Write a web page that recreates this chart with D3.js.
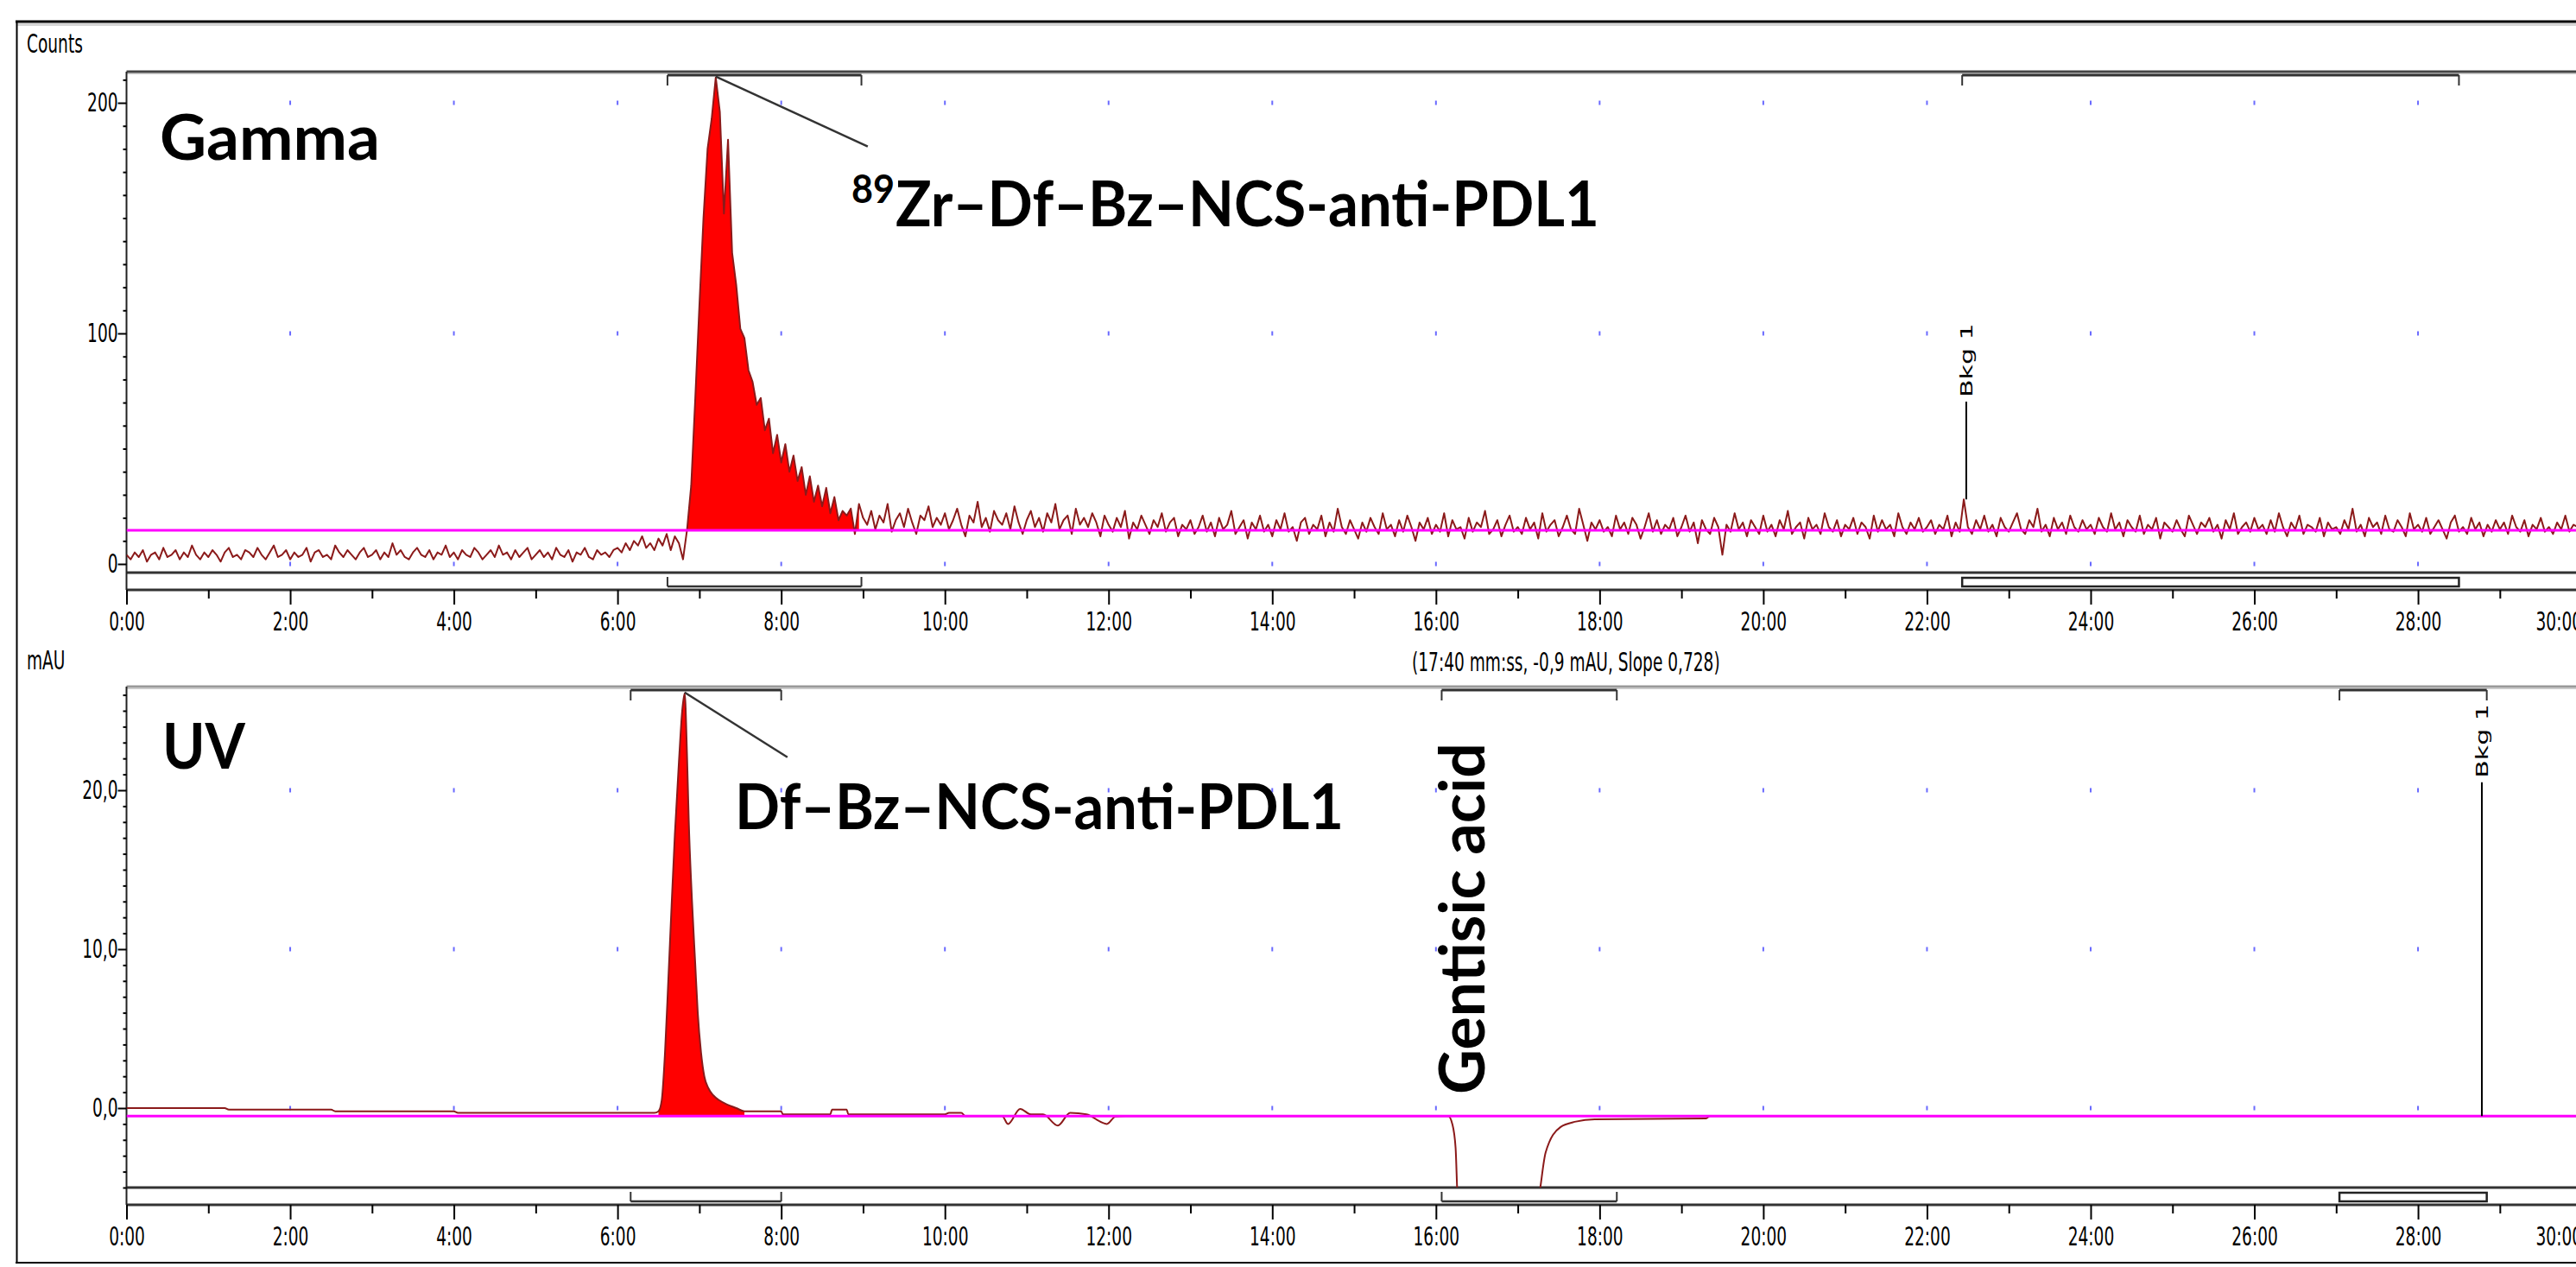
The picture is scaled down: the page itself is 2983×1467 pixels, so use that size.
<!DOCTYPE html>
<html>
<head>
<meta charset="utf-8">
<script src="https://cdn.jsdelivr.net/npm/d3@7"></script>
<style>
  body { margin: 0; background: #fff; }
  svg { display: block; }
</style>
</head>
<body>
<div id="graph"></div>
<script>

// ---------- data ----------
var timeTicks = d3.range(0, 31, 2)      // mm:ss major ticks (minutes)
var timeMinor = d3.range(1, 31, 2)

// gamma trace, one point every 3 s (0.05 min)
var gammaStep = 0.05
var gammaPre = [   // 0:00 .. 6:48
  4,2,5,3,6,1,4,5,2,7,3,4,6,2,5,3,8,4,2,5,
  3,6,4,1,5,7,3,4,2,6,5,3,7,4,2,5,8,3,4,6,
  2,5,3,4,7,1,5,6,3,4,2,8,5,3,6,4,2,5,7,3,
  4,6,2,5,3,9,4,6,3,2,5,7,4,3,6,2,5,4,8,3,
  5,2,6,4,3,7,5,2,4,6,3,8,4,5,2,6,3,5,7,2,
  4,6,3,5,2,7,4,3,6,1,5,4,7,3,2,6,4,5,3,6,
  7,5,9,6,10,8,12,7,9,6,11,8,13,6,12,9,2
]
var gammaPeakStart = 6.85
var gammaPeak = [  // 6:51 .. 8:57
  15,34,72,112,150,180,193,211,196,152,184,135,121,102,98,84,79,69,72,58,
  63,48,56,44,52,40,47,36,42,30,38,27,34,25,33,22,29,19,23,21,24,13,26
]
var gammaPostStart = 9
var gammaPost = [  // 9:00 .. 30:00
  20,17,23,15,21,18,26,14,19,22,16,24,18,13,21,19,25,16,20,17,
  22,15,19,24,17,12,21,18,27,16,20,14,23,19,17,22,15,25,18,13,
  19,23,16,20,14,22,18,26,15,19,21,13,24,17,20,16,22,18,12,21,
  17,14,20,16,23,11,18,15,21,17,13,19,16,22,14,18,20,12,17,15,
  19,13,16,21,14,18,12,20,15,17,23,13,16,19,11,18,15,21,14,17,
  12,19,15,22,14,16,10,18,20,13,17,15,21,12,18,14,24,16,13,19,
  15,11,18,14,20,16,13,22,15,17,12,19,14,21,16,10,18,15,20,13,
  17,14,22,12,19,15,16,11,20,14,18,16,23,13,15,19,12,17,21,14,
  16,13,20,15,18,11,22,14,17,19,12,16,21,15,13,24,17,10,18,15,
  19,14,16,12,21,15,18,13,20,17,11,16,22,14,19,13,17,15,20,12,
  16,21,14,18,9,19,15,13,20,16,4,17,14,22,15,18,12,19,16,13,
  21,14,17,12,19,15,23,13,16,18,11,20,15,17,13,22,16,14,19,12,
  17,15,20,13,18,16,11,21,14,19,15,17,12,22,16,13,18,15,20,14,
  16,19,13,17,15,21,12,18,14,28,16,13,19,15,21,14,17,12,20,16,
  14,18,22,15,13,19,16,24,14,17,12,20,15,18,13,21,16,14,19,15,
  17,13,20,16,14,22,15,18,12,19,16,14,21,13,17,15,20,11,18,16,
  14,19,15,12,21,17,13,18,16,20,14,17,11,19,15,22,13,16,18,14,
  20,15,17,13,19,14,22,16,12,18,15,21,13,17,16,14,20,12,18,15,
  16,13,19,15,24,14,17,12,20,16,18,13,21,15,14,19,16,12,22,15,
  17,14,20,13,16,19,15,11,18,21,14,16,13,20,15,18,12,17,14,19,
  15,18,13,21,16,14,19,12,17,15,20,14,16,13,18,15,21,14,17,16,
  15
]
var gammaBaseline = 14.6
var gammaYTicks = [0, 100, 200]
var gammaWindows = [[6.61, 8.98], [22.43, 28.50]]   // integration / background windows
var gammaBkg = {t: 22.48, from: 28, to: 70.4}

// UV trace (mAU)
var uvTime = [0, 1.2, 1.25, 2.5, 2.55, 4.0, 4.05, 6.45, 6.50, 6.54,
  6.58, 6.62, 6.66, 6.70, 6.75, 6.79, 6.82, 6.85, 6.87, 6.91,
  6.95, 6.98, 7.02, 7.06, 7.11, 7.17, 7.24, 7.35, 7.45, 7.55,
  8.0, 8.02, 8.6, 8.62, 8.8, 8.82, 10.0, 10.05, 10.2, 10.25,
  10.7, 10.77, 10.92, 11.05, 11.2, 11.38, 11.53, 11.73, 11.98, 12.08,
  12.2, 16.15, 16.20, 16.24, 16.27, 17.23, 17.34, 17.52, 17.71, 17.94,
  19.3, 19.35, 30]
var uvAbs = [0, 0, -0.1, -0.1, -0.2, -0.2, -0.3, -0.3, -0.2, 0.5,
  3.5, 8.0, 12.7, 17.2, 21.8, 25.0, 26.1, 22.0, 18.1, 13.0,
  9.0, 6.0, 3.5, 2.0, 1.25, 0.8, 0.5, 0.2, 0.0, -0.2,
  -0.2, -0.4, -0.4, -0.1, -0.1, -0.4, -0.4, -0.3, -0.3, -0.5,
  -0.5, -1.0, -0.05, -0.4, -0.4, -1.1, -0.3, -0.4, -1.0, -0.55,
  -0.5, -0.5, -1.0, -2.5, -6.0, -6.0, -2.8, -1.2, -0.85, -0.7,
  -0.65, -0.5, -0.5]
var uvBaseline = -0.5
var uvYTicks = [0, 10, 20]
var uvWindows = [[6.16, 8.0], [16.07, 18.21], [27.04, 28.84]]
var uvBkg = {t: 28.78, from: -0.5, to: 20.5}


var W = 2983, H = 1467
var svg = d3.select("#graph").append("svg").attr("width", W).attr("height", H)
var x = d3.scaleLinear().domain([0, 30]).range([146.5, 2989.6])

// the instrument software text is narrow
var sysSize = 30, sysSqueeze = 0.62
function sysText(g, px, py, str, anchor, rot) {
  return g.append("text")
    .attr("transform", `translate(${px},${py}) scale(${sysSqueeze},1)` + (rot ? " rotate(-90)" : ""))
    .attr("font-family", "DejaVu Sans")
    .attr("font-size", sysSize)
    .attr("text-anchor", anchor || "start")
    .attr("fill", "#000")
    .text(str)
}

function hline(g, y, x0, x1, col, w) {
  g.append("line").attr("x1", x0).attr("x2", x1).attr("y1", y).attr("y2", y)
    .attr("stroke", col).attr("stroke-width", w)
}
function vline(g, xx, y0, y1, col, w) {
  g.append("line").attr("x1", xx).attr("x2", xx).attr("y1", y0).attr("y2", y1)
    .attr("stroke", col).attr("stroke-width", w)
}

// outer frame
hline(svg, 25, 18, W, "#000", 3)
hline(svg, 28.5, 20, W, "#d6d6d6", 3)
vline(svg, 19.5, 24, 1463, "#000", 2)
hline(svg, 1462, 18, W, "#000", 2)

function drawPanel(p) {
  var g = svg.append("g")
  var y = d3.scaleLinear().domain(p.yDomain).range([p.bottom, p.top])

  svg.append("clipPath").attr("id", "clip-" + p.name)
    .append("rect").attr("x", x(0)).attr("y", p.top).attr("width", W).attr("height", p.bottom - p.top)

  sysText(g, 31, p.unitY, p.unit, "start")

  // frame of the plot and the peak band under it
  hline(g, p.top, x(0), W, p.topCol, 3)
  hline(g, p.top + 2.5, x(0), W, "#c8c8c8", 1)
  hline(g, p.bottom, x(0), W, "#333", 3)
  hline(g, p.band, x(0), W, "#333", 3)
  vline(g, x(0), p.top, p.band, "#222", 2)

  // grid dots
  timeTicks.filter(t => t > 0).forEach(t => {
    p.yTicks.forEach(v => {
      g.append("rect").attr("x", x(t) - 1).attr("y", y(v) - 2.5)
        .attr("width", 2).attr("height", 5).attr("fill", "#6a6aff")
    })
  })

  // peak fill, trace, baseline
  var plot = g.append("g").attr("clip-path", `url(#clip-${p.name})`)
  plot.append("path").datum(p.fillData)
    .attr("d", d3.area().curve(p.curve)
      .x(d => x(d.t)).y0(y(p.base)).y1(d => y(Math.max(d.v, p.base))))
    .attr("fill", "#ff0000")
  plot.append("path").datum(p.data)
    .attr("d", d3.line().curve(p.curve).x(d => x(d.t)).y(d => y(d.v)))
    .attr("fill", "none").attr("stroke", "#8b1a1a").attr("stroke-width", 2)
    .attr("stroke-linejoin", "round")
  hline(plot, y(p.base), x(0), W, "#ff00ff", 3)

  // x axis
  var xa = g.append("g").attr("transform", `translate(0,${p.band})`)
    .call(d3.axisBottom(x).tickValues(timeTicks).tickFormat(d => d + ":00")
      .tickSize(17).tickPadding(9).tickSizeOuter(0))
  var xm = g.append("g").attr("transform", `translate(0,${p.band})`)
    .call(d3.axisBottom(x).tickValues(timeMinor).tickFormat("").tickSize(10).tickSizeOuter(0))

  // y axis
  var ya = g.append("g").attr("transform", `translate(${x(0)},0)`)
    .call(d3.axisLeft(y).tickValues(p.yTicks).tickFormat(p.fmt)
      .tickSize(10).tickPadding(6).tickSizeOuter(0))
  var ym = g.append("g").attr("transform", `translate(${x(0)},0)`)
    .call(d3.axisLeft(y).tickValues(p.yMinor).tickFormat("").tickSize(4).tickSizeOuter(0))

  ;[xa, xm, ya, ym].forEach(a => {
    a.select(".domain").remove()
    a.attr("font-family", "DejaVu Sans").attr("font-size", sysSize)
    a.selectAll("line").attr("stroke", "#000").attr("stroke-width", 2)
    a.selectAll("text").attr("fill", "#000").attr("transform", `scale(${sysSqueeze},1)`)
  })
  // the last time label is pulled in so it ends at its tick, as the software does
  xa.selectAll("text").filter(d => d === 30).attr("text-anchor", "end")

  // integration windows: bracket on top, bracket/box in the band
  p.windows.forEach((w, i) => {
    var x0 = x(w[0]), x1 = x(w[1]), yt = p.top + 4
    hline(g, yt, x0, x1, "#333", 3)
    vline(g, x0, yt, yt + 12, "#333", 2)
    vline(g, x1, yt, yt + 12, "#333", 2)
    var yb = p.bottom + 16
    if (i === p.windows.length - 1) {
      g.append("rect").attr("x", x0).attr("y", p.bottom + 6).attr("width", x1 - x0).attr("height", 10)
        .attr("fill", "#fff").attr("stroke", "#222").attr("stroke-width", 2.5)
    } else {
      hline(g, yb, x0, x1, "#333", 2.5)
      vline(g, x0, p.bottom + 5, yb, "#333", 2)
      vline(g, x1, p.bottom + 5, yb, "#333", 2)
    }
  })

  // background marker
  vline(g, x(p.bkg.t), y(p.bkg.from), y(p.bkg.to), "#000", 2)
  sysText(g, x(p.bkg.t) + 7, y(p.bkg.to) - 5, "Bkg 1", "start", true)

  // leader from the apex to the peak label
  var apex = p.data.reduce((a, b) => (b.v > a.v ? b : a))
  g.append("line")
    .attr("x1", x(apex.t)).attr("y1", y(apex.v) - 1)
    .attr("x2", x(apex.t) + p.leader[0]).attr("y2", y(apex.v) - 1 + p.leader[1])
    .attr("stroke", "#333").attr("stroke-width", 2.5)

  return g
}

var gamma = []
gammaPre.forEach((v, i) => gamma.push({t: i * gammaStep, v: v}))
gammaPeak.forEach((v, i) => gamma.push({t: gammaPeakStart + i * gammaStep, v: v}))
gammaPost.forEach((v, i) => gamma.push({t: gammaPostStart + i * gammaStep, v: v}))

var uv = uvTime.map((t, i) => ({t: t, v: uvAbs[i]}))

var topPanel = drawPanel({
  name: "gamma", unit: "Counts", unitY: 61,
  top: 83, bottom: 663, band: 683, topCol: "#444",
  yDomain: [-3.75, 213.5], yTicks: gammaYTicks,
  yMinor: d3.range(0, 214, 10).filter(v => v % 100),
  fmt: d => d,
  data: gamma, fillData: gamma.filter(d => d.t >= gammaPeakStart && d.t < gammaPostStart),
  base: gammaBaseline, curve: d3.curveLinear,
  windows: gammaWindows, bkg: gammaBkg, leader: [176, 81]
})

var uvPanel = drawPanel({
  name: "uv", unit: "mAU", unitY: 775,
  top: 795, bottom: 1375, band: 1395, topCol: "#999",
  yDomain: [-5, 26.52], yTicks: uvYTicks,
  yMinor: d3.range(-5, 27, 1).filter(v => v % 10),
  fmt: d => d3.format(".1f")(d).replace(".", ","),
  data: uv, fillData: uv.filter(d => d.t >= 6.50 && d.t <= 7.55),
  base: uvBaseline, curve: d3.curveMonotoneX,
  windows: uvWindows, bkg: uvBkg, leader: [119, 75]
})

// cursor readout
sysText(svg, 1635, 777, "(17:40 mm:ss, -0,9 mAU, Slope 0,728)", "start")

// bold annotations
function bold(px, py, str, len, size, rot) {
  return svg.append("text")
    .attr("transform", `translate(${px},${py})` + (rot ? " rotate(-90)" : ""))
    .attr("font-family", "Lato, 'Open Sans', sans-serif")
    .attr("font-weight", 700)
    .attr("font-size", size || 72)
    .attr("textLength", len).attr("lengthAdjust", "spacingAndGlyphs")
    .attr("fill", "#000")
    .text(str)
}
bold(185, 185, "Gamma", 255)
bold(986, 235, "89", 50, 46)
bold(1037, 262, "Zr–Df–Bz–NCS-anti-PDL1", 815)
bold(188, 890, "UV", 96)
bold(851, 960, "Df–Bz–NCS-anti-PDL1", 705)
bold(1719, 1267, "Gentisic acid", 407, 72, true)

</script>
</body>
</html>
